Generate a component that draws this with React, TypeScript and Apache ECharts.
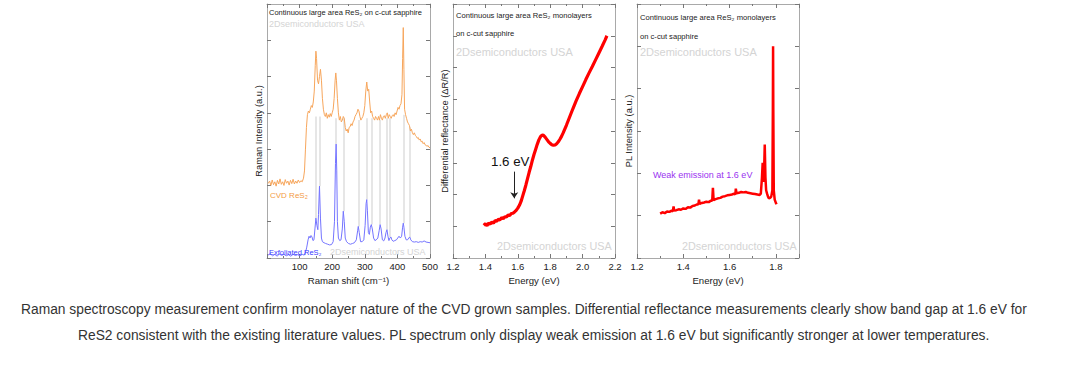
import React, { useEffect, useRef } from "react";
import * as echarts from "echarts";

// ---------- Raman (panel 1) ----------
const ramanCvdShift = [3, 8, 12, 16, 20, 24, 28, 32, 36, 40, 44, 48, 52, 56, 60, 64, 68, 72, 76, 80, 84, 88, 92, 96, 100, 104, 108, 112, 115, 118, 121, 124, 127, 130, 133, 136, 139, 142, 145, 148, 150, 152, 155, 158, 161, 164, 167, 170, 173, 176, 179, 182, 185, 188, 191, 194, 197, 200, 203, 206, 209, 211, 213, 216, 219, 222, 225, 228, 231, 234, 237, 240, 243, 246, 249, 252, 255, 258, 261, 264, 267, 270, 273, 276, 279, 282, 285, 288, 291, 294, 297, 300, 303, 306, 309, 312, 315, 318, 321, 324, 327, 330, 333, 336, 339, 342, 345, 348, 351, 354, 357, 360, 363, 366, 369, 372, 375, 378, 381, 384, 387, 390, 393, 396, 399, 402, 405, 408, 411, 414, 416, 418, 420, 422, 425, 428, 431, 434, 437, 440, 443, 446, 449, 452, 455, 458, 461, 464, 467, 470, 473, 476, 479, 482, 485, 488, 491, 494, 497, 500];
const ramanCvdIntensity = [2.05, 2.12, 2.0, 2.15, 2.02, 2.1, 1.98, 2.14, 2.04, 2.18, 2.03, 2.1, 2.0, 2.16, 2.06, 2.12, 2.01, 2.14, 2.05, 2.17, 2.04, 2.12, 2.06, 2.15, 2.08, 2.13, 2.1, 2.2, 2.4, 3.0, 3.6, 3.95, 4.05, 4.0, 4.1, 4.2, 4.15, 4.3, 4.6, 5.3, 5.7, 5.5, 4.9, 4.8, 5.0, 5.2, 4.9, 4.4, 4.1, 3.95, 3.9, 4.0, 3.85, 3.95, 3.88, 3.98, 3.9, 4.0, 4.1, 4.4, 4.9, 5.1, 4.9, 4.4, 4.0, 3.8, 3.9, 3.75, 3.8, 3.9, 3.85, 3.6, 3.5, 3.55, 3.45, 3.6, 3.62, 3.7, 3.65, 3.75, 3.8, 3.9, 3.95, 4.0, 4.1, 4.05, 3.9, 3.8, 3.85, 3.9, 4.0, 4.2, 4.6, 4.85, 4.6, 4.65, 4.3, 4.0, 4.05, 3.9, 3.85, 3.8, 3.9, 3.85, 3.8, 3.9, 3.8, 3.95, 3.85, 3.8, 3.9, 3.92, 3.85, 3.95, 4.0, 3.85, 3.95, 3.9, 3.85, 3.92, 3.95, 3.9, 4.0, 3.95, 4.05, 4.15, 4.1, 4.2, 4.25, 4.5, 5.5, 6.35, 5.2, 4.1, 3.95, 3.85, 3.75, 3.7, 3.65, 3.5, 3.55, 3.45, 3.4, 3.45, 3.38, 3.35, 3.3, 3.32, 3.25, 3.28, 3.2, 3.22, 3.15, 3.18, 3.12, 3.1, 3.08, 3.1, 3.05, 3.04];

const ramanExfShift = [3, 10, 17, 24, 31, 38, 45, 52, 59, 66, 73, 80, 87, 94, 101, 108, 114, 118, 122, 126, 129, 132, 135, 138, 141, 144, 147, 150, 153, 156, 158, 161, 164, 167, 170, 175, 180, 186, 192, 198, 203, 207, 210, 212, 214, 216, 219, 223, 227, 231, 234, 237, 240, 244, 250, 256, 262, 268, 274, 278, 280, 283, 287, 292, 297, 301, 304, 306, 308, 311, 314, 317, 320, 323, 327, 331, 335, 340, 344, 347, 350, 354, 358, 362, 365, 368, 371, 374, 377, 380, 383, 387, 392, 397, 401, 405, 409, 413, 416, 418, 420, 423, 427, 431, 435, 438, 441, 446, 452, 458, 464, 470, 476, 482, 488, 494, 500];
const ramanExfIntensity = [0.08, 0.12, 0.06, 0.1, 0.05, 0.11, 0.07, 0.1, 0.06, 0.09, 0.05, 0.1, 0.07, 0.09, 0.06, 0.1, 0.08, 0.15, 0.3, 0.5, 0.6, 0.55, 0.62, 0.58, 0.48, 0.5, 0.8, 1.1, 0.9, 0.78, 1.2, 1.98, 1.1, 0.55, 0.45, 0.42, 0.4, 0.38, 0.36, 0.37, 0.45, 1.0, 2.6, 3.14, 2.4, 1.0, 0.55, 0.48, 0.5, 0.8, 1.29, 1.0, 0.55, 0.45, 0.4, 0.38, 0.4, 0.42, 0.5, 0.75, 0.87, 0.7, 0.45, 0.45, 0.5, 0.9, 1.5, 1.61, 1.3, 0.7, 0.65, 0.85, 0.92, 0.8, 0.55, 0.48, 0.5, 0.55, 0.75, 0.92, 0.8, 0.5, 0.47, 0.55, 0.7, 0.78, 0.6, 0.48, 0.55, 0.58, 0.5, 0.46, 0.48, 0.5, 0.55, 0.6, 0.55, 0.6, 0.85, 0.96, 0.85, 0.6, 0.5, 0.5, 0.55, 0.58, 0.5, 0.45, 0.44, 0.45, 0.43, 0.45, 0.44, 0.47, 0.44, 0.43, 0.42];

// gray guide lines linking the two Raman spectra
const guideShift = [150, 161, 212, 234, 280, 306, 320, 347, 368, 378, 418, 437];
const guideLow = [1.1, 1.98, 3.14, 1.29, 0.87, 1.61, 0.92, 0.92, 0.78, 0.58, 0.96, 0.58];
const guideHigh = [3.9, 3.9, 3.85, 3.85, 3.8, 3.85, 3.85, 3.8, 3.85, 3.85, 3.95, 3.6];

const ramanTicks = { min: 0, max: 500, interval: 100 };
const ramanYRange = { min: 0, max: 7, interval: 1 };

// ---------- Differential reflectance (panel 2) ----------
const drEnergy = [1.39, 1.40, 1.41, 1.42, 1.43, 1.44, 1.45, 1.46, 1.47, 1.48, 1.49, 1.50, 1.51, 1.52, 1.53, 1.54, 1.55, 1.56, 1.57, 1.58, 1.59, 1.60, 1.61, 1.62, 1.63, 1.64, 1.65, 1.66, 1.67, 1.68, 1.69, 1.70, 1.71, 1.72, 1.73, 1.74, 1.75, 1.76, 1.77, 1.78, 1.79, 1.80, 1.81, 1.82, 1.83, 1.84, 1.85, 1.86, 1.87, 1.88, 1.89, 1.90, 1.92, 1.94, 1.96, 1.98, 2.00, 2.02, 2.04, 2.06, 2.08, 2.10, 2.12, 2.14, 2.15];
const drValue = [1.03, 1.08, 1.02, 1.1, 1.07, 1.13, 1.1, 1.18, 1.16, 1.22, 1.2, 1.27, 1.24, 1.3, 1.29, 1.35, 1.34, 1.4, 1.41, 1.45, 1.5, 1.57, 1.66, 1.78, 1.95, 2.12, 2.3, 2.5, 2.7, 2.88, 3.08, 3.26, 3.42, 3.58, 3.72, 3.82, 3.87, 3.86, 3.8, 3.73, 3.66, 3.61, 3.57, 3.55, 3.56, 3.6, 3.66, 3.74, 3.83, 3.94, 4.06, 4.18, 4.44, 4.7, 4.95, 5.18, 5.4, 5.62, 5.83, 6.03, 6.24, 6.45, 6.66, 6.88, 7.0];
const drArrowEnergy = 1.578;
const drArrowFrom = 2.72;
const drArrowTo = 1.88;
const drXRange = { min: 1.2, max: 2.2, interval: 0.2 };
const drYRange = { min: 0, max: 8, interval: 1 };

// ---------- PL (panel 3) ----------
const plEnergy = [1.30, 1.31, 1.32, 1.33, 1.34, 1.35, 1.355, 1.358, 1.361, 1.37, 1.38, 1.39, 1.40, 1.41, 1.42, 1.43, 1.44, 1.45, 1.46, 1.465, 1.468, 1.471, 1.48, 1.49, 1.50, 1.51, 1.52, 1.525, 1.528, 1.531, 1.54, 1.55, 1.56, 1.57, 1.58, 1.59, 1.60, 1.61, 1.62, 1.625, 1.627, 1.63, 1.64, 1.65, 1.66, 1.67, 1.68, 1.69, 1.70, 1.71, 1.72, 1.73, 1.735, 1.74, 1.743, 1.746, 1.749, 1.752, 1.755, 1.758, 1.762, 1.766, 1.77, 1.775, 1.78, 1.785, 1.787, 1.788, 1.789, 1.791, 1.795, 1.80, 1.803];
const plIntensity = [1.05, 1.08, 1.06, 1.1, 1.09, 1.12, 1.1, 1.22, 1.12, 1.13, 1.15, 1.14, 1.17, 1.16, 1.2, 1.19, 1.23, 1.24, 1.27, 1.26, 1.38, 1.28, 1.3, 1.31, 1.33, 1.32, 1.36, 1.35, 1.66, 1.37, 1.39, 1.41, 1.42, 1.45, 1.46, 1.48, 1.49, 1.5, 1.52, 1.5, 1.64, 1.53, 1.54, 1.56, 1.55, 1.56, 1.54, 1.53, 1.52, 1.51, 1.5, 1.49, 1.52, 1.9, 2.25, 1.8, 2.0, 2.68, 1.9, 1.6, 1.52, 1.45, 1.41, 1.42, 1.45, 1.6, 3.5, 5.0, 3.5, 1.6, 1.38, 1.3, 1.27];
const plXRange = { min: 1.2, max: 1.9, interval: 0.2 };
const plYRange = { min: 0, max: 6, interval: 1 };

// ---------- texts ----------
const captionLine1 = "Raman spectroscopy measurement confirm monolayer nature of the CVD grown samples. Differential reflectance measurements clearly show band gap at 1.6 eV for";
const captionLine2 = "ReS2 consistent with the existing literature values. PL spectrum only display weak emission at 1.6 eV but significantly stronger at lower temperatures.";

const FONT = "'Liberation Sans', Arial, Helvetica, 'DejaVu Sans', sans-serif";
const BORDER = "#a9a9a9";
const TICK = "#777";
const WATERMARK = "#d4d4d4";

function pairs(xs: number[], ys: number[]) {
  return xs.map((x, i) => [x, ys[i]]);
}

function makeXAxes(gridIndex: number, range: any, name: string, labelOpts: any) {
  const common: any = {
    type: "value",
    gridIndex,
    min: range.min,
    max: range.max,
    interval: range.interval,
    splitLine: { show: false },
    axisLine: { show: true, onZero: false, lineStyle: { color: BORDER, width: 1 } },
    axisTick: { show: true, inside: true, length: 4, lineStyle: { color: TICK } },
    minorTick: { show: true, splitNumber: 2, length: 2, lineStyle: { color: TICK } },
  };
  return [
    {
      ...common,
      position: "bottom",
      name,
      nameLocation: "middle",
      nameGap: 13,
      nameTextStyle: { fontSize: 9.6, color: "#222", fontFamily: FONT },
      axisLabel: { show: true, fontSize: 9.5, color: "#222", margin: 3, fontFamily: FONT, ...labelOpts },
    },
    { ...common, position: "top", axisLabel: { show: false } },
  ];
}

function makeYAxes(gridIndex: number, range: any, name: string, gap: number) {
  const common: any = {
    type: "value",
    gridIndex,
    min: range.min,
    max: range.max,
    interval: range.interval,
    splitLine: { show: false },
    axisLabel: { show: false },
    axisLine: { show: true, onZero: false, lineStyle: { color: BORDER, width: 1 } },
    axisTick: { show: true, inside: true, length: 4, lineStyle: { color: TICK } },
  };
  return [
    {
      ...common,
      position: "left",
      name,
      nameLocation: "middle",
      nameGap: gap,
      nameRotate: 90,
      nameTextStyle: { fontSize: 9.3, color: "#222", fontFamily: FONT },
    },
    { ...common, position: "right" },
  ];
}

function txt(x: number, y: number, text: string, fontSize: number, fill: string, extra: any = {}) {
  return {
    type: "text",
    x,
    y,
    silent: true,
    z: 50,
    style: { text, fontSize, fill, fontFamily: FONT, textVerticalAlign: "middle", verticalAlign: "middle", ...extra },
  };
}

function buildOption(): any {
  return {
    animation: false,
    backgroundColor: "#ffffff",
    grid: [
      { left: 267, top: 4, width: 163, height: 254 },
      { left: 453, top: 4, width: 162, height: 254 },
      { left: 637, top: 4, width: 162, height: 254 },
    ],
    xAxis: [
      ...makeXAxes(0, ramanTicks, "Raman shift (cm⁻¹)", { showMinLabel: false }),
      ...makeXAxes(1, drXRange, "Energy (eV)", { formatter: (v: number) => v.toFixed(1) }),
      ...makeXAxes(2, plXRange, "Energy (eV)", { showMaxLabel: false, formatter: (v: number) => v.toFixed(1) }),
    ],
    yAxis: [
      ...makeYAxes(0, ramanYRange, "Raman Intensity (a.u.)", 4),
      ...makeYAxes(1, drYRange, "Differential reflectance (ΔR/R)", 4),
      ...makeYAxes(2, plYRange, "PL Intensity (a.u.)", 4),
    ],
    series: [
      {
        type: "lines",
        coordinateSystem: "cartesian2d",
        xAxisIndex: 0,
        yAxisIndex: 0,
        silent: true,
        z: 1,
        lineStyle: { color: "#dedede", width: 1.5, opacity: 1 },
        data: guideShift.map((x, i) => ({ coords: [[x, guideLow[i]], [x, guideHigh[i]]] })),
      },
      {
        type: "line",
        name: "CVD ReS2",
        xAxisIndex: 0,
        yAxisIndex: 0,
        showSymbol: false,
        z: 3,
        lineStyle: { color: "#f7a65c", width: 1 },
        data: pairs(ramanCvdShift, ramanCvdIntensity),
      },
      {
        type: "line",
        name: "Exfoliated ReS2",
        xAxisIndex: 0,
        yAxisIndex: 0,
        showSymbol: false,
        z: 3,
        lineStyle: { color: "#7474ff", width: 1 },
        data: pairs(ramanExfShift, ramanExfIntensity),
      },
      {
        type: "line",
        name: "DR",
        xAxisIndex: 2,
        yAxisIndex: 2,
        showSymbol: false,
        z: 3,
        lineStyle: { color: "#ff0000", width: 3.2 },
        data: pairs(drEnergy, drValue),
        markLine: {
          silent: true,
          symbol: ["none", "arrow"],
          symbolSize: 6,
          label: { show: false },
          lineStyle: { color: "#222", width: 1, type: "solid" },
          data: [[{ coord: [drArrowEnergy, drArrowFrom] }, { coord: [drArrowEnergy, drArrowTo] }]],
        },
      },
      {
        type: "line",
        name: "PL",
        xAxisIndex: 4,
        yAxisIndex: 4,
        showSymbol: false,
        z: 3,
        lineStyle: { color: "#ff0000", width: 2.5 },
        data: pairs(plEnergy, plIntensity),
      },
    ],
    graphic: [
      // panel 1
      txt(269, 12, "Continuous large area ReS₂ on c-cut sapphire", 7.5, "#222"),
      txt(269, 24, "2Dsemiconductors USA", 9, WATERMARK),
      txt(270, 195, "CVD ReS₂", 8, "#f39b45"),
      txt(269, 252, "Exfoliated ReS₂", 7.5, "#3a3aff"),
      txt(330, 252, "2Dsemiconductors USA", 9, WATERMARK),
      // panel 2
      txt(456, 15, "Continuous large area ReS₂ monolayers", 7.6, "#222"),
      txt(456, 33, "on c-cut sapphire", 7.6, "#222"),
      txt(456, 52, "2Dsemiconductors USA", 11, WATERMARK),
      txt(491, 161, "1.6 eV", 13.3, "#111"),
      txt(497, 246, "2Dsemiconductors USA", 10.8, WATERMARK),
      // panel 3
      txt(640, 17, "Continuous large area ReS₂ monolayers", 7.6, "#222"),
      txt(640, 36, "on c-cut sapphire", 7.6, "#222"),
      txt(640, 52, "2Dsemiconductors USA", 11, WATERMARK),
      txt(653, 175, "Weak emission at 1.6 eV", 9, "#9a33f0"),
      txt(682, 246, "2Dsemiconductors USA", 10.8, WATERMARK),
      // caption
      txt(21, 309, captionLine1, 13.8, "#333"),
      txt(78, 335, captionLine2, 13.8, "#333"),
    ],
  };
}

export default function App() {
  const ref = useRef<HTMLDivElement>(null);
  useEffect(() => {
    document.body.style.margin = "0";
    const chart = echarts.init(ref.current!, null, { renderer: "svg" });
    chart.setOption(buildOption());
    return () => chart.dispose();
  }, []);
  return <div ref={ref} style={{ width: 1080, height: 367 }} />;
}
